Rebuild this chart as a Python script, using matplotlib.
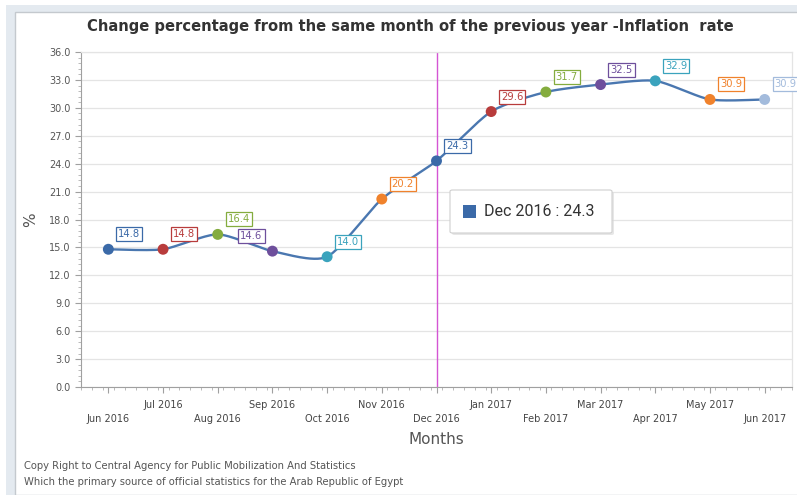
import numpy as np
import matplotlib
matplotlib.use("Agg")
import matplotlib.pyplot as plt
from matplotlib.patches import Rectangle, FancyBboxPatch
from matplotlib.ticker import MultipleLocator, FixedLocator, NullFormatter

# ---- data -------------------------------------------------------------
months = ["Jun 2016", "Jul 2016", "Aug 2016", "Sep 2016", "Oct 2016", "Nov 2016",
          "Dec 2016", "Jan 2017", "Feb 2017", "Mar 2017", "Apr 2017", "May 2017",
          "Jun 2017"]
inflation = [14.8, 14.8, 16.4, 14.6, 14.0, 20.2, 24.3, 29.6, 31.7, 32.5, 32.9, 30.9, 30.9]
point_colors = ["#3b6aa8", "#b83c3c", "#84ac3e", "#6e4f9c", "#3aa3bd", "#f0822c",
                "#3b6aa8", "#b83c3c", "#84ac3e", "#6e4f9c", "#3aa3bd", "#f0822c",
                "#a3bbdc"]
label_side = [1, 1, 1, -1, 1, 1, 1, 1, 1, 1, 1, 1, 1]
highlight = "Dec 2016"

title = "Change percentage from the same month of the previous year -Inflation  rate"
footer = ["Copy Right to Central Agency for Public Mobilization And Statistics",
          "Which the primary source of official statistics for the Arab Republic of Egypt"]

# ---- figure -----------------------------------------------------------
W, H = 797, 495
fig = plt.figure(figsize=(W / 100, H / 100), dpi=100)
fig.patch.set_facecolor("white")

# framed panel look
fig.add_artist(Rectangle((6 / W, 0), 1, 1 - 5 / H, transform=fig.transFigure,
                         facecolor="#e4eaf0", edgecolor="none", zorder=-10))
fig.add_artist(Rectangle((15 / W, 0), 1, 1 - 12 / H, transform=fig.transFigure,
                         facecolor="white", edgecolor="#c4c9ce", linewidth=1.0, zorder=-9))

ax = fig.add_axes([81 / W, 1 - 387 / H, (792 - 81) / W, (387 - 52) / H])
ax.set_facecolor("none")

x = np.arange(len(months))
y = np.array(inflation, dtype=float)


def smooth_curve(px, py, k=0.35, n=30):
    """Cubic Hermite curve through the points with Catmull-Rom style tangents."""
    P = np.column_stack([px, py]).astype(float)
    ext = np.vstack([P[0], P, P[-1]])
    tang = k * (ext[2:] - ext[:-2])
    t = np.linspace(0, 1, n, endpoint=False)[:, None]
    h00 = 2 * t ** 3 - 3 * t ** 2 + 1
    h10 = t ** 3 - 2 * t ** 2 + t
    h01 = -2 * t ** 3 + 3 * t ** 2
    h11 = t ** 3 - t ** 2
    out = []
    for i in range(len(P) - 1):
        out.append(h00 * P[i] + h10 * tang[i] + h01 * P[i + 1] + h11 * tang[i + 1])
    out.append(P[-1][None, :])
    out = np.vstack(out)
    return out[:, 0], out[:, 1]


sx, sy = smooth_curve(x, y)
ax.plot(sx, sy, color="#4a77b0", linewidth=1.7, zorder=3, solid_capstyle="round")
ax.scatter(x, y, s=62, c=point_colors, zorder=4, edgecolors="none")

# value labels
for xi, yi, c, side in zip(x, y, point_colors, label_side):
    ax.annotate(f"{yi:.1f}", (xi, yi), xytext=(21 * side, 15), textcoords="offset pixels",
                ha="center", va="center", fontsize=7.2, color=c, zorder=6,
                annotation_clip=False,
                bbox=dict(boxstyle="square,pad=0.2", facecolor="white", edgecolor=c,
                          linewidth=0.9))

# highlighted month marker line
hi = months.index(highlight)
ax.axvline(hi, color="#d455d4", linewidth=1.0, zorder=2)

# axes styling
ax.set_xlim(-0.5, len(months) - 0.5)
ax.set_ylim(0, 36)
ax.yaxis.set_minor_locator(MultipleLocator(0.6))
ax.set_yticks(np.arange(0, 37, 3))
ax.set_yticklabels([f"{v:.1f}" for v in np.arange(0, 37, 3)])
ax.grid(axis="y", color="#e4e4e4", linewidth=0.9, zorder=0)
ax.set_axisbelow(True)

ax.set_xticks(x)
ax.set_xticklabels([""] * len(months))
ax.xaxis.set_minor_locator(FixedLocator(np.arange(-0.5, len(months) - 0.4, 0.2)))
ax.xaxis.set_minor_formatter(NullFormatter())

for i, m in enumerate(months):
    ax.annotate(m, (i, 0), xytext=(0, -27 if i % 2 == 0 else -13), textcoords="offset pixels",
                ha="center", va="top", fontsize=7, color="#444444",
                annotation_clip=False, family="DejaVu Sans")

ax.tick_params(axis="both", which="major", length=4, width=0.8, color="#a0a0a0",
               labelsize=7, labelcolor="#555555")
ax.tick_params(axis="both", which="minor", length=2, width=0.6, color="#b0b0b0")
for side in ["top", "right"]:
    ax.spines[side].set_color("#e4e4e4")
    ax.spines[side].set_linewidth(0.9)
for side in ["left", "bottom"]:
    ax.spines[side].set_color("#a0a0a0")
    ax.spines[side].set_linewidth(0.8)

ax.set_ylabel("%", fontsize=11, color="#555555", labelpad=8)
fig.text(436 / W, 1 - 440 / H, "Months", ha="center", va="center", fontsize=11,
         color="#555555")

fig.text(410 / W, 1 - 27 / H, title, ha="center", va="center", fontsize=10.6,
         fontweight="bold", color="#333333")

fig.text(24 / W, 1 - 466 / H, footer[0], ha="left", va="center", fontsize=7.2, color="#555555")
fig.text(24 / W, 1 - 482 / H, footer[1], ha="left", va="center", fontsize=7.2, color="#555555")

# tooltip
tx0, ty0, tw, th = 450, 190, 162, 43
fig.add_artist(FancyBboxPatch(((tx0 + 2) / W, 1 - (ty0 + th + 2) / H), tw / W, th / H,
                              boxstyle="round,pad=0,rounding_size=0.003",
                              transform=fig.transFigure, facecolor="#d8d8d8",
                              edgecolor="none", alpha=0.6, zorder=7))
fig.add_artist(FancyBboxPatch((tx0 / W, 1 - (ty0 + th) / H), tw / W, th / H,
                              boxstyle="round,pad=0,rounding_size=0.003",
                              transform=fig.transFigure, facecolor="white",
                              edgecolor="#cfcfcf", linewidth=0.8, zorder=8))
fig.add_artist(Rectangle((463 / W, 1 - 218 / H), 13 / W, 13 / H, transform=fig.transFigure,
                         facecolor=point_colors[hi], edgecolor="none", zorder=9))
fig.text(484 / W, 1 - 212 / H, f"{highlight} : {inflation[hi]:.1f}", ha="left", va="center",
         fontsize=11.5, color="#333333", family="Roboto", zorder=9)

fig.savefig("out.png", dpi=100)
